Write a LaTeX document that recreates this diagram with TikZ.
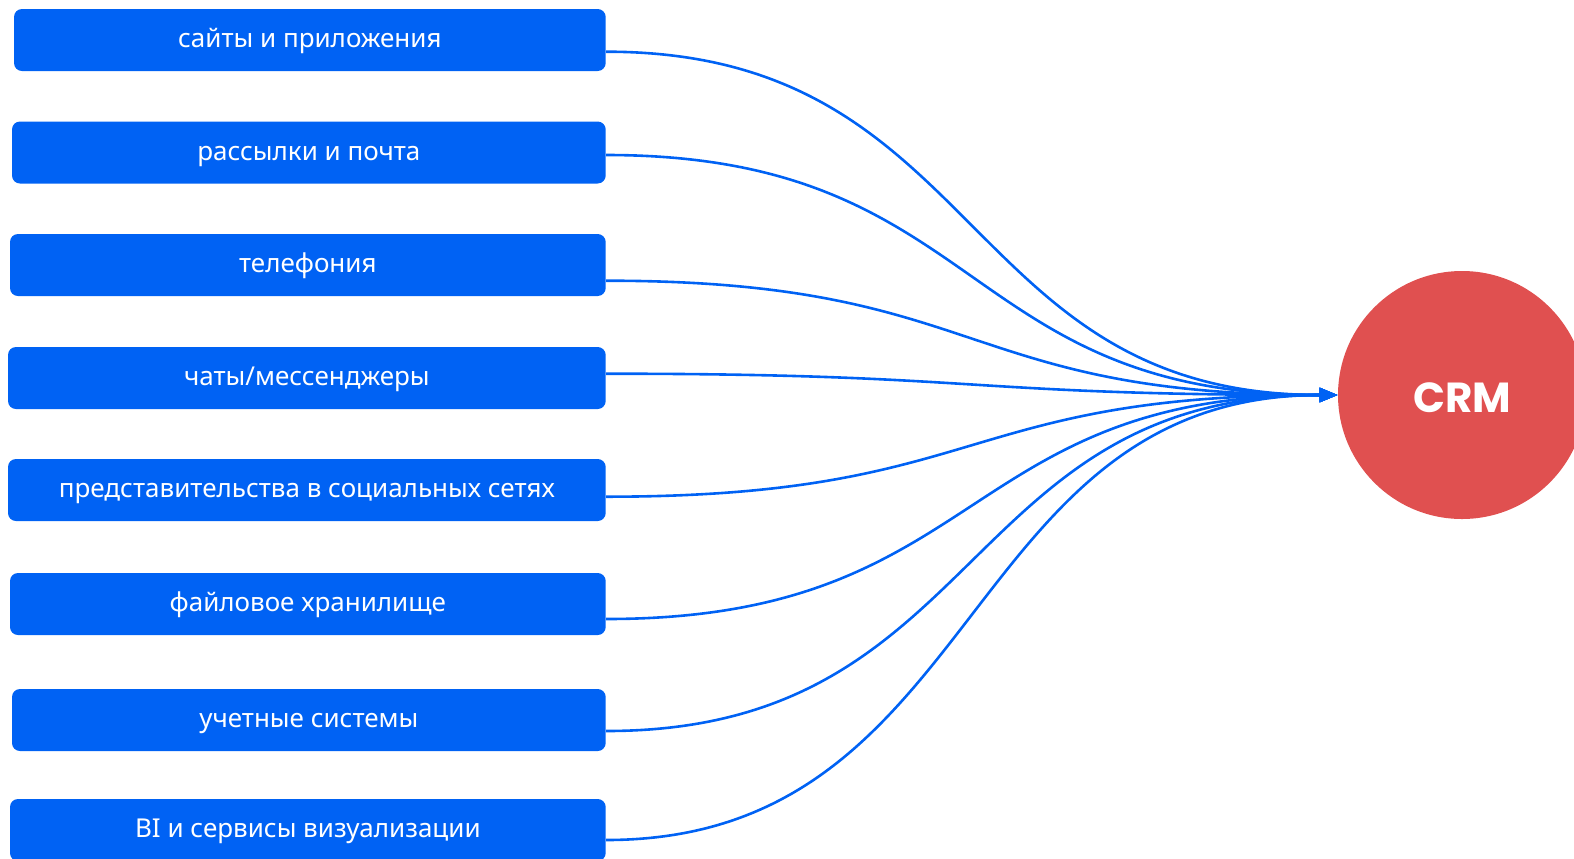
\documentclass[tikz,border=0pt]{standalone}
\usepackage{fontspec}
\setmainfont{Noto Sans}
\newfontfamily\crmfont{Poppins}
\usetikzlibrary{arrows.meta}
\definecolor{boxblue}{HTML}{0062F4}
\definecolor{crmred}{HTML}{E05050}
\begin{document}
\begin{tikzpicture}[x=0.5pt,y=-0.5pt,
  srcbox/.style={fill=boxblue, rounded corners=4pt, text=white,
    font=\fontsize{13}{15}\selectfont, inner sep=0pt,
    text height=7.9pt, text depth=0pt, minimum height=31pt},
  link/.style={draw=boxblue, line width=1.3pt, -{Triangle[length=9pt,width=7pt]}}]
\useasboundingbox (0,0) rectangle (1574,858);
\begin{scope}
\clip (0,0) rectangle (1574,858);
\node[srcbox, minimum width=295.85pt] (b1) at (309.85,40)  {сайты и приложения};
\node[srcbox, minimum width=296.85pt] (b2) at (308.85,152.5) {рассылки и почта};
\node[srcbox, minimum width=297.85pt] (b3) at (307.85,265)   {телефония};
\node[srcbox, minimum width=298.85pt] (b4) at (306.85,378)   {чаты/мессенджеры};
\node[srcbox, minimum width=298.85pt] (b5) at (306.85,490)   {представительства в социальных сетях};
\node[srcbox, minimum width=297.85pt] (b6) at (307.85,604)   {файловое хранилище};
\node[srcbox, minimum width=296.85pt] (b7) at (308.85,720)   {учетные системы};
\node[srcbox, minimum width=297.85pt] (b8) at (307.85,830)   {BI и сервисы визуализации};
\node[circle, fill=crmred, minimum size=124pt, inner sep=0pt, text=white,
  text height=17pt, text depth=0pt,
  font=\crmfont\bfseries\fontsize{21}{24}\selectfont] (crm) at (1462,395) {CRM};
\draw[link] ([yshift=-5.85pt]b1.east) .. controls +(380,0) and +(-380,0) .. (crm.west);
\draw[link] ([yshift=-1.25pt]b2.east) .. controls +(380,0) and +(-380,0) .. (crm.west);
\draw[link] ([yshift=-7.85pt]b3.east) .. controls +(380,0) and +(-380,0) .. (crm.west);
\draw[link] ([yshift=2.15pt]b4.east)  .. controls +(380,0) and +(-380,0) .. (crm.west);
\draw[link] ([yshift=-3.35pt]b5.east) .. controls +(380,0) and +(-380,0) .. (crm.west);
\draw[link] ([yshift=-7.5pt]b6.east)  .. controls +(380,0) and +(-380,0) .. (crm.west);
\draw[link] ([yshift=-5.5pt]b7.east)  .. controls +(380,0) and +(-380,0) .. (crm.west);
\draw[link] ([yshift=-5pt]b8.east)    .. controls +(380,0) and +(-380,0) .. (crm.west);
\end{scope}
\end{tikzpicture}
\end{document}
